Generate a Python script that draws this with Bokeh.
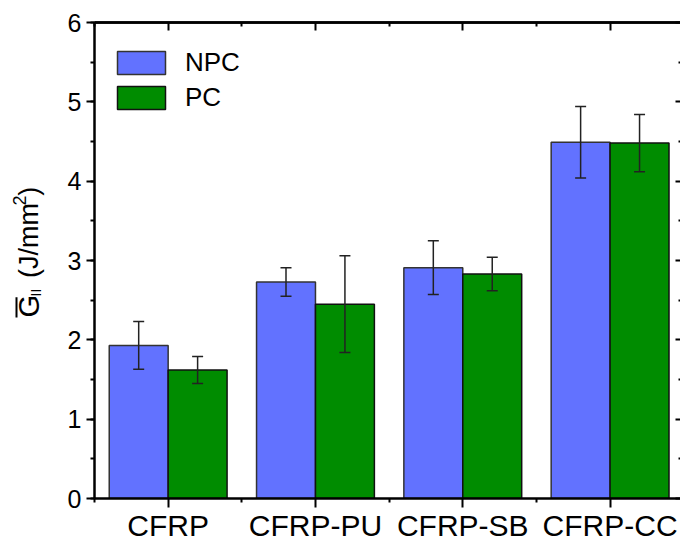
import numpy as np
from bokeh.plotting import figure
from bokeh.layouts import row
from bokeh.models import (ColumnDataSource, Whisker, FixedTicker, LinearAxis,
                          Range1d, Legend, LegendItem, TeeHead)
from bokeh.core.properties import value
from bokeh.embed import file_html
from bokeh.resources import INLINE

# ---------------- data ----------------
categories = ["CFRP", "CFRP-PU", "CFRP-SB", "CFRP-CC"]
series = ["NPC", "PC"]
npc_mean = [1.93, 2.73, 2.91, 4.49]
npc_err = [0.30, 0.18, 0.34, 0.45]
pc_mean = [1.62, 2.45, 2.83, 4.48]
pc_err = [0.17, 0.61, 0.21, 0.36]
y_ticks = [0, 1, 2, 3, 4, 5, 6]
y_minor = [0.5 * i for i in range(13)]

colors = ["#6272FF", "#008C00"]
FONT = "Liberation Sans"
H = 544
LW = 60          # width of the y-title strip

idx = np.arange(1, len(categories) + 1)
cat_minor = list(idx - 0.5) + [len(categories) + 0.5]
y_half = [v for v in y_minor if v not in y_ticks]
src = ColumnDataSource(dict(
    x_npc=idx - 0.2, x_pc=idx + 0.2,
    npc=npc_mean, pc=pc_mean,
    npc_lo=np.array(npc_mean) - np.array(npc_err),
    npc_hi=np.array(npc_mean) + np.array(npc_err),
    pc_lo=np.array(pc_mean) - np.array(pc_err),
    pc_hi=np.array(pc_mean) + np.array(pc_err),
))

p = figure(width=680 - LW, height=H, output_backend="svg", toolbar_location=None,
           x_range=Range1d(0.5, 4.478), y_range=Range1d(0, 6),
           min_border_left=34, min_border_right=0, min_border_top=22,
           min_border_bottom=44)
p.outline_line_color = None
p.xgrid.visible = False
p.ygrid.visible = False


def style_axis(ax):
    ax.axis_line_width = 2.5
    ax.axis_line_color = "black"
    ax.major_tick_line_width = 2
    ax.minor_tick_line_width = 2
    ax.major_tick_line_color = "black"
    ax.minor_tick_line_color = "black"
    ax.major_label_text_font = FONT
    ax.major_label_text_color = "black"


# left axis
ya = p.yaxis[0]
style_axis(ya)
ya.ticker = FixedTicker(ticks=y_ticks, minor_ticks=y_minor)
ya.major_tick_out = 8
ya.major_tick_in = 0
ya.minor_tick_out = 4
ya.minor_tick_in = 0
ya.major_label_text_font_size = "25px"
ya.major_label_standoff = 5

# bottom axis
xa = p.xaxis[0]
style_axis(xa)
xa.ticker = FixedTicker(ticks=list(idx), minor_ticks=cat_minor)
xa.major_label_overrides = {int(i): c for i, c in zip(idx, categories)}
xa.major_tick_out = 9
xa.major_tick_in = 0
xa.minor_tick_out = 4
xa.minor_tick_in = 0
xa.major_label_text_font_size = "30px"
xa.major_label_standoff = 1


def tick_only_axis(positions, length, line=True):
    """Axis without labels: only (minor) tick marks pointing inward."""
    ax = LinearAxis(ticker=FixedTicker(ticks=[], minor_ticks=positions))
    style_axis(ax)
    if not line:
        ax.axis_line_color = None
    ax.major_tick_in = 0
    ax.major_tick_out = 0
    ax.minor_tick_in = length
    ax.minor_tick_out = 0
    ax.major_label_standoff = 0
    return ax


# top frame line with inward ticks
p.add_layout(tick_only_axis(list(idx), 8), "above")
p.add_layout(tick_only_axis(cat_minor, 4), "above")
# right side: only the inner ends of its ticks are visible at the edge
p.add_layout(tick_only_axis(y_ticks, 5, line=False), "right")
p.add_layout(tick_only_axis(y_half, 2, line=False), "right")

# bars
r1 = p.vbar(x="x_npc", top="npc", bottom=0, width=0.4, source=src,
            fill_color=colors[0], line_color="#333333", line_width=1.5)
r2 = p.vbar(x="x_pc", top="pc", bottom=0, width=0.4, source=src,
            fill_color=colors[1], line_color="#111111", line_width=1.5)

for base, lo, hi in [("x_npc", "npc_lo", "npc_hi"), ("x_pc", "pc_lo", "pc_hi")]:
    w = Whisker(base=base, lower=lo, upper=hi, source=src, level="overlay",
                line_color="#222222", line_width=1.5,
                upper_head=TeeHead(size=11, line_color="#222222", line_width=1.5),
                lower_head=TeeHead(size=11, line_color="#222222", line_width=1.5))
    p.add_layout(w)

legend = Legend(items=[LegendItem(label=series[0], renderers=[r1]),
                       LegendItem(label=series[1], renderers=[r2])],
                location=(17, 385), margin=0, padding=0, spacing=4,
                glyph_width=60, glyph_height=29, label_height=29,
                label_standoff=14, label_text_font=FONT,
                label_text_color="black",
                label_text_font_size="26px", border_line_color=None,
                background_fill_alpha=0)
p.add_layout(legend)

# ---------------- y-axis title strip ----------------
t = figure(width=LW, height=H, output_backend="svg", toolbar_location=None,
           x_range=Range1d(0, LW), y_range=Range1d(0, H),
           min_border=0, x_axis_location=None, y_axis_location=None)
t.outline_line_color = None
t.xgrid.visible = False
t.ygrid.visible = False


def vtext(x, y_page, txt, size):
    t.text(x=[x], y=[H - y_page], text=[txt], angle=np.pi / 2,
           text_font=value(FONT), text_font_size=f"{size}px", text_color="black",
           text_align="left", text_baseline="alphabetic")


vtext(28, 337, "G", 29)
vtext(35, 313, "II", 14)
vtext(28, 292, "(J/mm", 27)
vtext(19, 209, "2", 18)
vtext(28, 198, ")", 27)
# overline above the G
t.segment(x0=[16], y0=[H - 337], x1=[16], y1=[H - 314],
          line_color="black", line_width=2)

open("out.html", "w").write(file_html(row(t, p), INLINE))
